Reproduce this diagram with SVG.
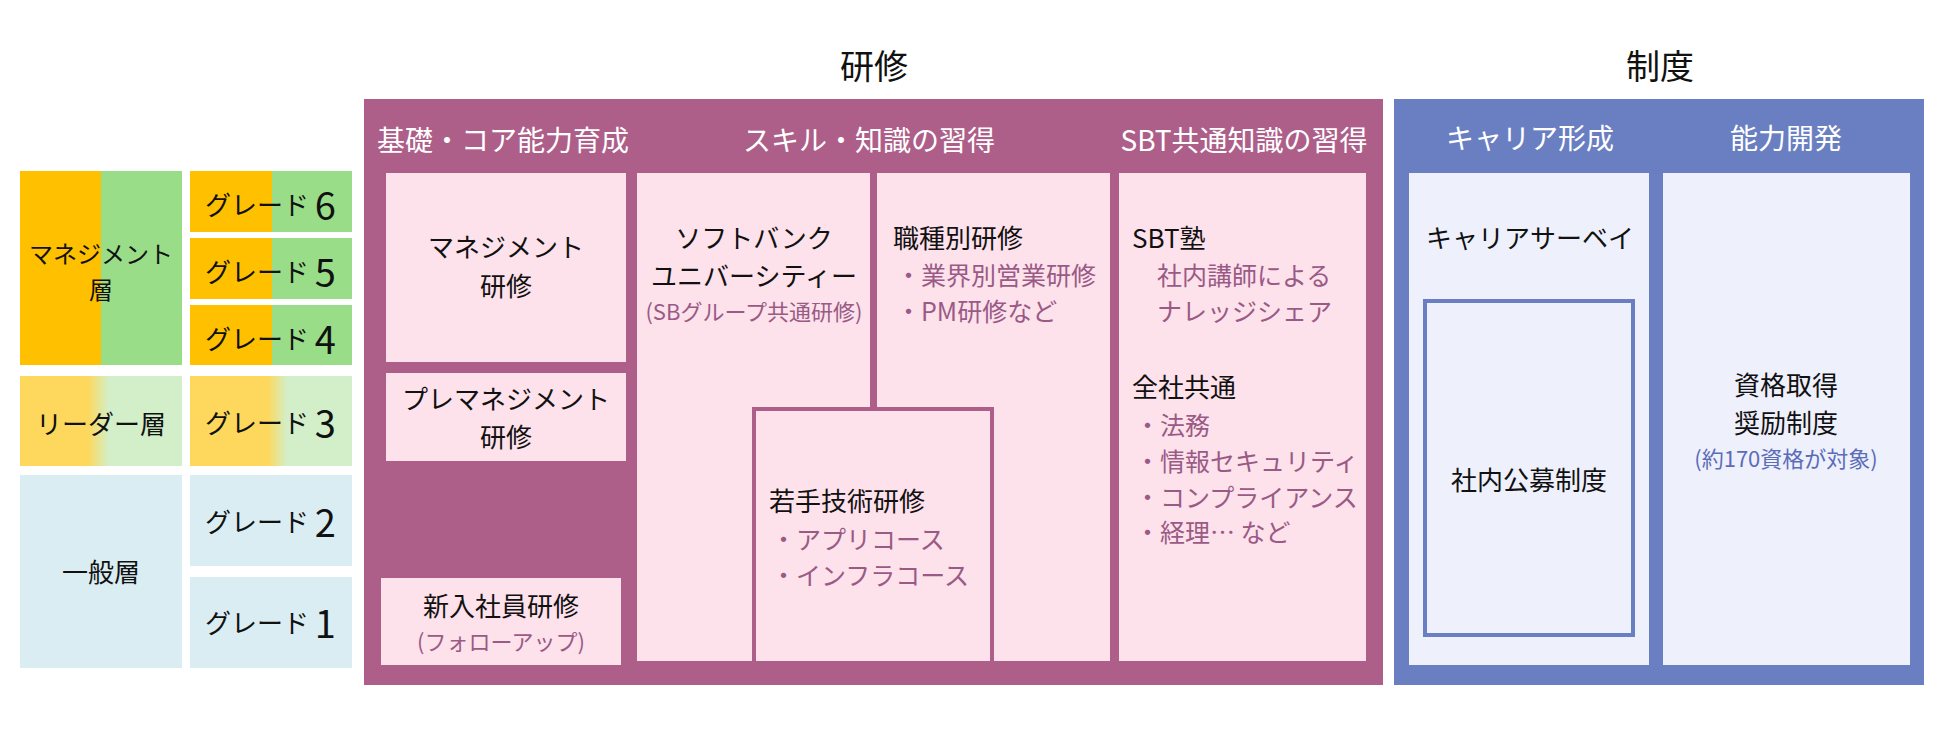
<svg xmlns="http://www.w3.org/2000/svg" width="1942" height="729" viewBox="0 0 1942 729">
<defs>
<linearGradient id="gL" x1="20" x2="182" gradientUnits="userSpaceOnUse"><stop offset="0.42" stop-color="#FDD85C"/><stop offset="0.55" stop-color="#D2EFC9"/></linearGradient>
<linearGradient id="gG" x1="190" x2="352" gradientUnits="userSpaceOnUse"><stop offset="0.48" stop-color="#FDD85C"/><stop offset="0.6" stop-color="#D2EFC9"/></linearGradient>
</defs>
<style>
text{font-family:"Noto Sans CJK JP","Noto Sans",sans-serif;dominant-baseline:central;fill:#111}
.c{text-anchor:middle}
.t{font-size:26px}
.h{font-size:28px;fill:#fff}
.s{font-size:22px;fill:#9A5A86}
.b{font-size:25px;fill:#9A5A86}
.sb{font-size:22px;fill:#5B6DB8}
.p{fill:#FDE1EB}
.l{fill:#EEF0FC}
.n{font-size:38px}
</style>
<text x="874" y="64" class="c" style="font-size:34px">研修</text>
<text x="1660" y="64" class="c" style="font-size:34px">制度</text>
<g id="layers">
<g id="mgmt"><rect x="20" y="171" width="81" height="194" fill="#FFC000"/><rect x="101" y="171" width="81" height="194" fill="#99DD88"/><text x="101" y="252" class="c t" style="font-size:24px">マネジメント</text><text x="101" y="288" class="c t" style="font-size:24px">層</text></g>
<g id="leader"><rect x="20" y="376" width="162" height="90" fill="url(#gL)"/><text x="101" y="422" class="c t">リーダー層</text></g>
<g id="general"><rect x="20" y="475" width="162" height="193" fill="#DAEDF3"/><text x="101" y="570" class="c t">一般層</text></g>
</g>
<g id="grades">
<g id="g6"><rect x="190" y="171" width="82" height="61" fill="#FFC000"/><rect x="272" y="171" width="80" height="61" fill="#99DD88"/><text x="205" y="203" class="t">グレード <tspan class="n">6</tspan></text></g>
<g id="g5"><rect x="190" y="238" width="82" height="61" fill="#FFC000"/><rect x="272" y="238" width="80" height="61" fill="#99DD88"/><text x="205" y="270" class="t">グレード <tspan class="n">5</tspan></text></g>
<g id="g4"><rect x="190" y="305" width="82" height="60" fill="#FFC000"/><rect x="272" y="305" width="80" height="60" fill="#99DD88"/><text x="205" y="337" class="t">グレード <tspan class="n">4</tspan></text></g>
<g id="g3"><rect x="190" y="376" width="162" height="90" fill="url(#gG)"/><text x="205" y="421" class="t">グレード <tspan class="n">3</tspan></text></g>
<g id="g2"><rect x="190" y="475" width="162" height="91" fill="#DAEDF3"/><text x="205" y="520" class="t">グレード <tspan class="n">2</tspan></text></g>
<g id="g1"><rect x="190" y="577" width="162" height="91" fill="#DAEDF3"/><text x="205" y="621" class="t">グレード <tspan class="n">1</tspan></text></g>
</g>
<g id="training">
<rect x="364" y="99" width="1019" height="586" fill="#AD5F8A"/>
<text x="503" y="139" class="c h">基礎・コア能力育成</text>
<text x="869" y="139" class="c h">スキル・知識の習得</text>
<text x="1244" y="139" class="c h">SBT共通知識の習得</text>
<g id="mgmtTr"><rect x="386" y="173" width="240" height="189" class="p"/><text x="506" y="245" class="c t">マネジメント</text><text x="506" y="284" class="c t">研修</text></g>
<g id="preMgmt"><rect x="386" y="373" width="240" height="88" class="p"/><text x="506" y="397" class="c t">プレマネジメント</text><text x="506" y="435" class="c t">研修</text></g>
<g id="newHire"><rect x="381" y="578" width="240" height="87" class="p"/><text x="501" y="604" class="c t">新入社員研修</text><text x="501" y="640" class="c s">(フォローアップ)</text></g>
<g id="sbu"><rect x="637" y="173" width="233" height="488" class="p"/><text x="754" y="236" class="c t">ソフトバンク</text><text x="754" y="274" class="c t">ユニバーシティー</text><text x="754" y="310" class="c s">(SBグループ共通研修)</text></g>
<g id="job"><rect x="877" y="173" width="233" height="488" class="p"/><text x="893" y="236" class="t">職種別研修</text><text x="896" y="274" class="b">・業界別営業研修</text><text x="896" y="310" class="b">・PM研修など</text></g>
<g id="young"><rect x="754" y="409" width="238" height="254" class="p" stroke="#AD5F8A" stroke-width="4"/><text x="769" y="499" class="t">若手技術研修</text><text x="771" y="538" class="b">・アプリコース</text><text x="771" y="574" class="b">・インフラコース</text></g>
<g id="sbt"><rect x="1119" y="173" width="247" height="488" class="p"/><text x="1132" y="236" class="t">SBT塾</text><text x="1157" y="274" class="b">社内講師による</text><text x="1157" y="310" class="b">ナレッジシェア</text><text x="1132" y="385" class="t">全社共通</text><text x="1135" y="424" class="b">・法務</text><text x="1135" y="460" class="b">・情報セキュリティ</text><text x="1135" y="496" class="b">・コンプライアンス</text><text x="1135" y="531" class="b">・経理… など</text></g>
</g>
<g id="system">
<rect x="1394" y="99" width="530" height="586" fill="#6A7FC2"/>
<text x="1530" y="137" class="c h">キャリア形成</text>
<text x="1786" y="137" class="c h">能力開発</text>
<g id="career"><rect x="1409" y="173" width="240" height="492" class="l"/><text x="1530" y="236" class="c t">キャリアサーベイ</text></g>
<g id="koubo"><rect x="1425" y="301" width="208" height="334" class="l" stroke="#6A7FC2" stroke-width="4"/><text x="1529" y="478" class="c t">社内公募制度</text></g>
<g id="shikaku"><rect x="1663" y="173" width="247" height="492" class="l"/><text x="1786" y="383" class="c t">資格取得</text><text x="1786" y="421" class="c t">奨励制度</text><text x="1786" y="457" class="c sb">(約170資格が対象)</text></g>
</g>
<g id="connectors"/>
</svg>
